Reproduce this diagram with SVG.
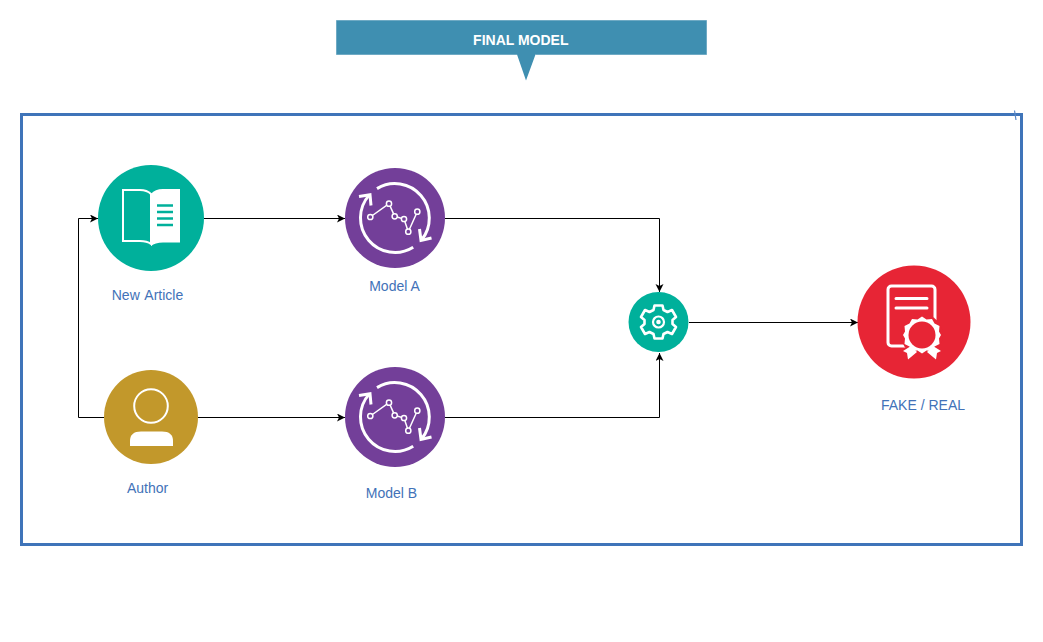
<svg xmlns="http://www.w3.org/2000/svg" xmlns:xlink="http://www.w3.org/1999/xlink" width="1043" height="642" viewBox="0 0 1043 642">
<style>
.lbl{font-family:"Liberation Sans",Arial,sans-serif;font-size:14px;fill:#4272b8;text-anchor:middle}
.conn{fill:none;stroke:#000;stroke-width:1;marker-end:url(#arr)}
.w{fill:none;stroke:#fff;stroke-linecap:butt;stroke-linejoin:miter}
</style>
<defs>
<marker id="arr" markerUnits="userSpaceOnUse" markerWidth="9" markerHeight="9" refX="8" refY="4" orient="auto">
<path d="M0 0L8 4L0 8L2 4Z" fill="#000"/>
</marker>
<g id="modelIcon">
<path class="w" stroke-width="3" d="M377 188.600A34.500 34.500 0 0 1 421.500 240"/>
<path class="w" stroke-width="3" d="M413.200 247.300A34.500 34.500 0 0 1 369.150 195.130"/>
<path class="w" stroke-width="3" d="M359 196.500L370 194.800L371 205.500"/>
<path class="w" stroke-width="3" d="M419.500 229L421 240.500L431.500 238"/>
<path class="w" stroke-width="1.500" d="M370.300 217L389 203.700L394.700 216.300L404 219L408.300 231.700L417.300 211.700"/>
<g fill="#733f99" stroke="#fff" stroke-width="1.500">
<circle cx="370.300" cy="217" r="2.600"/><circle cx="389" cy="203.700" r="2.600"/><circle cx="394.700" cy="216.300" r="2.600"/><circle cx="404" cy="219" r="2.600"/><circle cx="408.300" cy="231.700" r="2.600"/><circle cx="417.300" cy="211.700" r="2.600"/>
</g>
</g>
</defs>
<rect width="1043" height="642" fill="#fff"/>

<g id="frame">
<rect x="21.500" y="114.500" width="1000" height="430" fill="none" stroke="#3f74b9" stroke-width="3"/>
<path d="M1014.500 110.500L1016 120" stroke="#5b88c6" stroke-width="1.200" fill="none"/>
</g>

<g id="banner">
<path d="M336.500 20.500H706.500V54.500H535.500L526 80.500L517 54.500H336.500Z" fill="#3f8fb1"/>
<path d="M517 54.500H336.500V20.500H706.500V54.500H535.500" fill="none" stroke="#6faac4" stroke-width="1"/>
<text x="520.800" y="45" style="font-family:'Liberation Sans',Arial,sans-serif;font-size:14px;font-weight:bold;fill:#fff;text-anchor:middle">FINAL MODEL</text>
</g>

<g id="connectors">
<path class="conn" d="M204 218.500H345"/>
<path class="conn" d="M104 417.500H78.500V218.500H98"/>
<path class="conn" d="M198 417.500H345"/>
<path class="conn" d="M445 218.500H659.500V292"/>
<path class="conn" d="M445 417.500H659.500V353"/>
<path class="conn" d="M689 322.500H858"/>
</g>

<g id="new-article">
<circle cx="151" cy="218" r="53" fill="#00b09b"/>
<path d="M123 190H140Q147 190 151 194V244Q147 241 140 241H123Z" fill="none" stroke="#fff" stroke-width="2"/>
<path d="M151 194Q155 189 163 189H180V242.500H163Q155 242.500 151 246Z" fill="#fff"/>
<path d="M157 205.500H173M157 212H173M157 218.500H173M157 225H173" stroke="#00b09b" stroke-width="2.500" fill="none"/>
<text class="lbl" x="147.500" y="300" style="word-spacing:1.500px">New Article</text>
</g>

<g id="model-a">
<circle cx="395" cy="218" r="50" fill="#733f99"/>
<use xlink:href="#modelIcon" href="#modelIcon"/>
<text class="lbl" x="394.500" y="291">Model A</text>
</g>

<g id="author">
<circle cx="151" cy="417" r="47" fill="#c2982b"/>
<circle cx="151" cy="406" r="16.800" fill="none" stroke="#fff" stroke-width="2"/>
<path d="M130 446V441Q130 431.500 141 431.500H162Q173 431.500 173 441V446Z" fill="#fff"/>
<text class="lbl" x="147.500" y="493">Author</text>
</g>

<g id="model-b">
<circle cx="395" cy="417" r="50" fill="#733f99"/>
<use xlink:href="#modelIcon" href="#modelIcon" y="199"/>
<text class="lbl" x="391.500" y="498">Model B</text>
</g>

<g id="combiner">
<circle cx="658.500" cy="322" r="30" fill="#00b09b"/>
<path d="M654.500 305.500H662.500L663.500 310L667.500 312L672 310L676 317L672.500 320V324L676 327L672 334L667.500 332L663.500 334L662.500 338.500H654.500L653.500 334L649.500 332L645 334L641 327L644.500 324V320L641 317L645 310L649.500 312L653.500 310Z" fill="none" stroke="#fff" stroke-width="2.600" stroke-linejoin="round"/>
<circle cx="658.500" cy="322" r="5.500" fill="none" stroke="#fff" stroke-width="2.200"/>
<circle cx="658.500" cy="322" r="2.300" fill="#fff"/>
</g>

<g id="fake-real">
<circle cx="914" cy="322" r="56.500" fill="#e72535"/>
<rect x="888" y="286" width="47" height="60" rx="3.500" fill="none" stroke="#fff" stroke-width="3"/>
<path d="M896 298.500H927M896 308H927" stroke="#fff" stroke-width="3" stroke-linecap="round" fill="none"/>
<circle cx="922" cy="335" r="21" fill="#e72535"/>
<path d="M903 351L911 346L917 352L908 359.500L907 353Z M941 351L933 346L927 352L936 359.500L937 353Z" fill="#fff"/>
<path d="M922 316.500L926.500 319.500L932 319L934.500 323.500L939.500 326L939 331.500L941 335L939 338.500L939.500 344L934.500 346.500L932 351L926.500 350.500L922 353.500L917.500 350.500L912 351L909.500 346.500L904.500 344L905 338.500L903 335L905 331.500L904.500 326L909.500 323.500L912 319L917.500 319.500Z" fill="#fff"/>
<circle cx="922" cy="335" r="13.500" fill="#e72535"/>
<text class="lbl" x="923" y="410">FAKE / REAL</text>
</g>
</svg>
